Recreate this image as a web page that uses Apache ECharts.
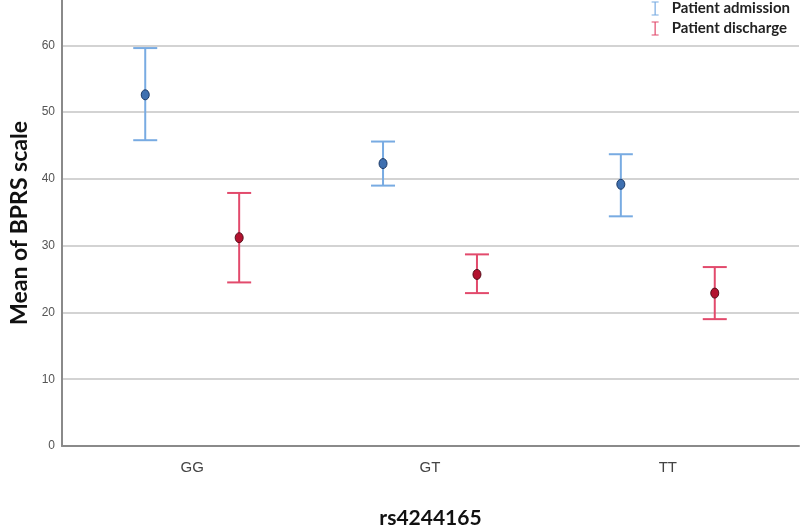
<!DOCTYPE html>
<html>
<head>
<meta charset="utf-8">
<script src="https://cdn.jsdelivr.net/npm/echarts@6/dist/echarts.min.js"></script>
<style>html,body{margin:0;padding:0;background:#fff;}#c{width:800px;height:529px;}</style>
</head>
<body>
<div id="c"></div>
<script>
const categories = ['GG', 'GT', 'TT'];
const admissionMean = [52.6, 42.3, 39.2];
const admissionLower = [45.8, 39.0, 34.4];
const admissionUpper = [59.6, 45.6, 43.7];
const dischargeMean = [31.2, 25.7, 22.9];
const dischargeLower = [24.5, 22.9, 19.0];
const dischargeUpper = [37.9, 28.7, 26.8];
const yTicks = [0, 10, 20, 30, 40, 50, 60];

const Y_MAX = 66.8;
const BLUE_LINE = '#78abe2', BLUE_PT = '#3f70b0', BLUE_EDGE = '#1d3a66';
const RED_LINE = '#e24a6c', RED_PT = '#b3122f', RED_EDGE = '#55101c';

function makeData(mean, lo, hi) {
  return categories.map((c, i) => [i, mean[i], lo[i], hi[i]]);
}

function renderer(offsetFrac, lineColor, ptColor, edgeColor) {
  return function (params, api) {
    const band = api.size([1, 0])[0];
    const c = api.coord([api.value(0), api.value(1)]);
    const x = c[0] + offsetFrac * band;
    const ym = c[1];
    const yl = api.coord([api.value(0), api.value(2)])[1];
    const yh = api.coord([api.value(0), api.value(3)])[1];
    const hw = 12;
    const ls = { stroke: lineColor, lineWidth: 2 };
    return {
      type: 'group',
      children: [
        { type: 'line', shape: { x1: x, y1: yh, x2: x, y2: yl }, style: ls },
        { type: 'line', shape: { x1: x - hw, y1: yh, x2: x + hw, y2: yh }, style: ls },
        { type: 'line', shape: { x1: x - hw, y1: yl, x2: x + hw, y2: yl }, style: ls },
        { type: 'ellipse', shape: { cx: x, cy: ym, rx: 4, ry: 5 }, style: { fill: ptColor, stroke: edgeColor, lineWidth: 1 } }
      ]
    };
  };
}

const iconPath = 'path://M0,0H7V1.1H4.1V12.9H7V14H0V12.9H2.9V1.1H0Z';

const chart = echarts.init(document.getElementById('c'), null, { renderer: 'canvas' });
chart.setOption({
  animation: false,
  backgroundColor: '#ffffff',
  grid: [
    { left: 62, right: 1, top: 0, bottom: 83, outerBoundsMode: 'none', containLabel: false },
    { left: 73.3, right: 13.3, top: 0, bottom: 83, outerBoundsMode: 'none', containLabel: false }
  ],
  legend: {
    orient: 'vertical',
    right: 6,
    top: 0,
    padding: [1, 4, 0, 0],
    itemWidth: 7,
    itemHeight: 14,
    itemGap: 5,
    textStyle: { fontFamily: 'Lato', fontWeight: 'bold', fontSize: 15, color: '#222', padding: [0, 0, 0, 8] },
    data: [
      { name: 'Patient admission', icon: iconPath },
      { name: 'Patient discharge', icon: iconPath }
    ]
  },
  xAxis: [
    {
      gridIndex: 0, type: 'value', min: 0, max: 1,
      axisLine: { show: true, lineStyle: { color: '#8a8a8a', width: 2 } },
      axisTick: { show: false }, axisLabel: { show: false }, splitLine: { show: false },
      name: 'rs4244165', nameLocation: 'middle', nameGap: 62,
      nameTextStyle: { fontFamily: 'Lato', fontWeight: 'bold', fontSize: 21, color: '#111' }
    },
    {
      gridIndex: 1, type: 'category', data: categories, boundaryGap: true,
      axisLine: { show: false }, axisTick: { show: false }, splitLine: { show: false },
      axisLabel: { margin: 14, fontFamily: 'Liberation Sans Narrow, Arial Narrow, Arial', fontSize: 15, color: '#444' }
    }
  ],
  yAxis: [
    {
      gridIndex: 0, type: 'value', min: 0, max: Y_MAX, interval: 10,
      axisLine: { show: true, lineStyle: { color: '#8a8a8a', width: 2 } },
      axisTick: { show: false },
      axisLabel: {
        margin: 7, showMaxLabel: false,
        fontFamily: 'Liberation Sans Narrow, Arial Narrow, Arial', fontSize: 12, color: '#555',
        formatter: v => (yTicks.indexOf(v) >= 0 ? String(v) : '')
      },
      splitLine: { show: true, showMaxLine: false, lineStyle: { color: '#d3d3d3', width: 2 } },
      name: 'Mean of BPRS scale', nameLocation: 'middle', nameGap: 28, nameRotate: 90,
      nameTextStyle: { fontFamily: 'Lato', fontWeight: 'bold', fontSize: 23, color: '#111' }
    },
    {
      gridIndex: 1, type: 'value', min: 0, max: Y_MAX, interval: 10, show: false,
      splitLine: { show: false }
    }
  ],
  series: [
    {
      name: 'Patient admission', type: 'custom', xAxisIndex: 1, yAxisIndex: 1,
      itemStyle: { color: BLUE_LINE },
      renderItem: renderer(-0.1975, BLUE_LINE, BLUE_PT, BLUE_EDGE),
      encode: { x: 0, y: [1, 2, 3] },
      data: makeData(admissionMean, admissionLower, admissionUpper)
    },
    {
      name: 'Patient discharge', type: 'custom', xAxisIndex: 1, yAxisIndex: 1,
      itemStyle: { color: RED_LINE },
      renderItem: renderer(0.1975, RED_LINE, RED_PT, RED_EDGE),
      encode: { x: 0, y: [1, 2, 3] },
      data: makeData(dischargeMean, dischargeLower, dischargeUpper)
    }
  ]
});
</script>
</body>
</html>
